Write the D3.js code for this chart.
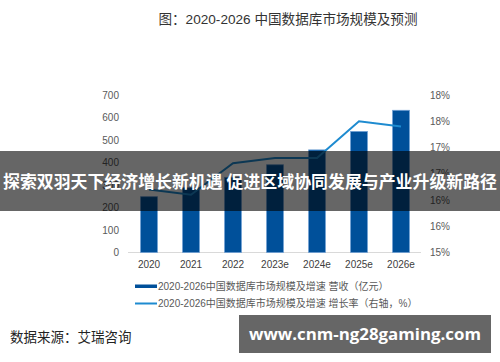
<!DOCTYPE html>
<html>
<head>
<meta charset="utf-8">
<script src="https://cdn.jsdelivr.net/npm/d3@7"></script>
<style>
  body { margin: 0; background: #fff; }
  svg { display: block; }
</style>
</head>
<body>
<div id="chart"></div>
<script>
// chart data
const years = ["2020", "2021", "2022", "2023e", "2024e", "2025e", "2026e"];
const revenue = [248, 288, 334, 390, 456, 538, 632];       // 营收（亿元）
const growth = [16.2, 16.1, 16.7, 16.8, 16.8, 17.5, 17.4];  // 增长率（%）
const leftTicks = [0, 100, 200, 300, 400, 500, 600, 700];
const rightTicks = [15, 15.5, 16, 16.5, 17, 17.5, 18];

const titleText = "图：2020-2026 中国数据库市场规模及预测";
const legendLabels = [
    "2020-2026中国数据库市场规模及增速 营收（亿元）",
    "2020-2026中国数据库市场规模及增速 增长率（右轴，%）"
];
const sourceText = "数据来源：艾瑞咨询";
const bannerText = "探索双羽天下经济增长新机遇 促进区域协同发展与产业升级新路径";
const siteText = "www.cnm-ng28gaming.com";

let width = 500,
    height = 362;

let font = "'Liberation Sans', 'Noto Sans CJK SC', sans-serif";
let barColor = "#00509a",
    lineColor = "#1e8bd0";

let svg = d3.select("#chart")
    .append("svg")
    .attr("width", width)
    .attr("height", height)
    .style("font-family", font);

// scales
let x = d3.scaleBand()
    .domain(years)
    .range([128, 422])
    .paddingInner(0.6)
    .paddingOuter(0.3);

let y = d3.scaleLinear()
    .domain([0, 700])
    .range([252.5, 95]);

let y2 = d3.scaleLinear()
    .domain([15, 18])
    .range([252.5, 95]);

// title
svg.append("text")
    .attr("x", 288)
    .attr("y", 24)
    .attr("text-anchor", "middle")
    .attr("font-size", "13.6px")
    .attr("fill", "#333")
    .text(titleText);

// left axis
svg.append("g")
    .attr("transform", "translate(124,0)")
    .call(d3.axisLeft(y).tickValues(leftTicks).tickSize(0).tickPadding(5))
    .call(g => g.select(".domain").remove())
    .call(g => g.selectAll("text")
        .attr("font-size", "10px")
        .attr("font-family", font)
        .attr("fill", "#595959"));

// right axis
svg.append("g")
    .attr("transform", "translate(425,0)")
    .call(d3.axisRight(y2).tickValues(rightTicks).tickSize(0).tickPadding(5)
        .tickFormat(d => Math.round(d) + "%"))
    .call(g => g.select(".domain").remove())
    .call(g => g.selectAll("text")
        .attr("font-size", "10px")
        .attr("font-family", font)
        .attr("fill", "#595959"));

// baseline
svg.append("line")
    .attr("x1", 128)
    .attr("x2", 421)
    .attr("y1", y(0))
    .attr("y2", y(0))
    .attr("stroke", "#d9d9d9")
    .attr("stroke-width", 1);

// bars
svg.append("g")
    .selectAll("rect")
    .data(years)
    .join("rect")
    .attr("x", d => x(d))
    .attr("width", x.bandwidth())
    .attr("y", (d, i) => y(revenue[i]))
    .attr("height", (d, i) => y(0) - y(revenue[i]))
    .attr("fill", barColor)
    .attr("stroke", "#6f9fd3")
    .attr("stroke-width", 0.8);

// x labels
svg.append("g")
    .attr("transform", `translate(0,${y(0)})`)
    .call(d3.axisBottom(x).tickSize(0).tickPadding(8))
    .call(g => g.select(".domain").remove())
    .call(g => g.selectAll("text")
        .attr("font-size", "10px")
        .attr("font-family", font)
        .attr("fill", "#404040"));

// growth line
let line = d3.line()
    .x((d, i) => x(years[i]) + x.bandwidth() / 2)
    .y(d => y2(d));

svg.append("path")
    .datum(growth)
    .attr("d", line)
    .attr("fill", "none")
    .attr("stroke", lineColor)
    .attr("stroke-width", 2);

// legend
let legend = svg.append("g").attr("font-size", "10px").attr("fill", "#595959");
legend.append("rect")
    .attr("x", 135).attr("y", 284.5)
    .attr("width", 22).attr("height", 3.5)
    .attr("fill", barColor);
legend.append("line")
    .attr("x1", 135).attr("x2", 157)
    .attr("y1", 303.5).attr("y2", 303.5)
    .attr("stroke", lineColor)
    .attr("stroke-width", 2);
legendLabels.forEach((t, i) => {
    legend.append("text")
        .attr("x", 158)
        .attr("y", 290 + i * 17)
        .text(t);
});

// source note
svg.append("text")
    .attr("x", 10)
    .attr("y", 342)
    .attr("font-size", "13.5px")
    .attr("fill", "#222")
    .text(sourceText);

// overlay banner
svg.append("rect")
    .attr("x", 0).attr("y", 151)
    .attr("width", width).attr("height", 60)
    .attr("fill", "#000")
    .attr("opacity", 0.6);
svg.append("text")
    .attr("x", 250)
    .attr("y", 188)
    .attr("text-anchor", "middle")
    .attr("font-size", "16.6px")
    .attr("font-weight", "bold")
    .attr("font-family", "'Noto Sans CJK SC', sans-serif")
    .attr("textLength", 494)
    .attr("lengthAdjust", "spacingAndGlyphs")
    .attr("fill", "#fff")
    .text(bannerText);

// site watermark box
svg.append("rect")
    .attr("x", 239).attr("y", 315)
    .attr("width", 252).attr("height", 38)
    .attr("fill", "#666");
svg.append("text")
    .attr("x", 365)
    .attr("y", 340)
    .attr("text-anchor", "middle")
    .attr("font-size", "16px")
    .attr("font-weight", "bold")
    .attr("font-family", "'Open Sans', 'Noto Sans', sans-serif")
    .attr("textLength", 232)
    .attr("lengthAdjust", "spacingAndGlyphs")
    .attr("fill", "#fff")
    .text(siteText);
</script>
</body>
</html>
